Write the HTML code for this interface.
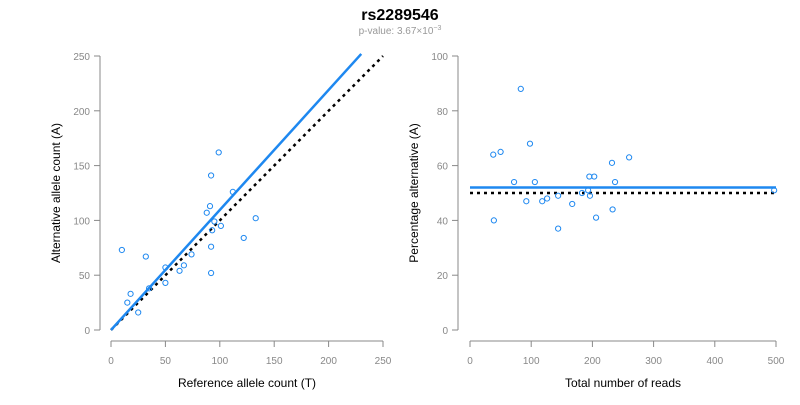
<!DOCTYPE html>
<html><head><meta charset="utf-8"><style>
body{margin:0;background:#fff;font-family:"Liberation Sans",Arial,sans-serif}
svg text{font-family:"Liberation Sans",Arial,sans-serif}
</style></head><body>
<svg id="c" width="800" height="400">
<text x="400" y="20" text-anchor="middle" font-size="16" font-weight="bold">rs2289546</text>
<text x="400" y="34" text-anchor="middle" font-size="10" fill="#999">p-value: 3.67×10<tspan dy="-4" font-size="7">−3</tspan></text>
</svg>
<script>
const leftRef=[10,32,99,92,112,91,88,133,95,101,93,122,92,74,67,50,63,92,50,35,18,15,25];
const leftAlt=[73,67,162,141,126,113,107,102,99,95,91,84,76,69,59,57,54,52,43,38,33,25,16];
const rightTotal=[83,98,38,50,260,232,203,195,72,106,237,193,497,183,196,144,126,118,92,167,233,206,39,144];
const rightPct=[88,68,64,65,63,61,56,56,54,54,54,51,51,50,49,49,48,47,47,46,44,41,40,37];
const leftFit=[0,1.095];
const rightFit=[52];
const ticksL=[0,50,100,150,200,250];
const ticksRX=[0,100,200,300,400,500];
const ticksRY=[0,20,40,60,80,100];
const svg=document.getElementById('c');const NS='http://www.w3.org/2000/svg';
function mk(t,a,p){const e=document.createElementNS(NS,t);for(const k in a)e.setAttribute(k,a[k]);(p||svg).appendChild(e);return e;}
function panel(o){
 const g=mk('g',{});
 
 
 const X=v=>o.x0+(v-o.xmin)/(o.xmax-o.xmin)*(o.x1-o.x0);
 const Y=v=>o.y0-(v-o.ymin)/(o.ymax-o.ymin)*(o.y0-o.y1);
 const ya=mk('line',{x1:o.yAxisX,x2:o.yAxisX,y1:Y(o.yt[0]),y2:Y(o.yt[o.yt.length-1]),stroke:'#888'},g);
 
 o.yt.forEach(v=>{mk('line',{x1:o.yAxisX-6,x2:o.yAxisX,y1:Y(v),y2:Y(v),stroke:'#888'},g);
  const t=mk('text',{x:o.yAxisX-10,y:Y(v)+4,'text-anchor':'end','font-size':10,fill:'#888'},g);t.textContent=v;
  });
 const xa=mk('line',{x1:X(o.xt[0]),x2:X(o.xt[o.xt.length-1]),y1:o.xAxisY,y2:o.xAxisY,stroke:'#888'},g);
 
 o.xt.forEach(v=>{mk('line',{x1:X(v),x2:X(v),y1:o.xAxisY,y2:o.xAxisY+6,stroke:'#888'},g);
  const t=mk('text',{x:X(v),y:o.xAxisY+23,'text-anchor':'middle','font-size':10,fill:'#888'},g);t.textContent=v;
  });
 const xl=mk('text',{x:(X(o.xmin)+X(o.xmax))/2,y:o.xAxisY+46,'text-anchor':'middle','font-size':12},g);xl.textContent=o.xlab;
 
 const yl=mk('text',{x:0,y:0,'text-anchor':'middle','font-size':12,transform:`translate(${o.yAxisX-40},${(Y(o.ymin)+Y(o.ymax))/2}) rotate(-90)`},g);yl.textContent=o.ylab;
 
 const d=mk('line',{x1:X(o.d[0]),y1:Y(o.d[1]),x2:X(o.d[2]),y2:Y(o.d[3]),stroke:'#000','stroke-width':2.5,'stroke-dasharray':'3,4'},g);
 
 const f=mk('line',{x1:X(o.f[0]),y1:Y(o.f[1]),x2:X(o.f[2]),y2:Y(o.f[3]),stroke:'#1e88f0','stroke-width':2.5},g);
 
 o.xs.forEach((v,i)=>{const c=mk('circle',{cx:X(v),cy:Y(o.ys[i]),r:2.6,fill:'none',stroke:'#1e88f0','stroke-width':1},g);
  });
}
panel({name:'scatter-counts',xmin:0,xmax:250,ymin:0,ymax:250,x0:111,x1:383,y0:330,y1:56,yAxisX:100,xAxisY:341,xt:ticksL,yt:ticksL,
 xlab:'Reference allele count (T)',ylab:'Alternative allele count (A)',xs:leftRef,ys:leftAlt,
 d:[0,0,250,250],f:[0,leftFit[0],230,leftFit[0]+leftFit[1]*230]});
panel({name:'scatter-percentage',xmin:0,xmax:500,ymin:0,ymax:100,x0:470,x1:776,y0:330,y1:56,yAxisX:458,xAxisY:341,xt:ticksRX,yt:ticksRY,
 xlab:'Total number of reads',ylab:'Percentage alternative (A)',xs:rightTotal,ys:rightPct,
 d:[0,50,500,50],f:[0,rightFit[0],500,rightFit[0]]});
</script>
</body></html>
